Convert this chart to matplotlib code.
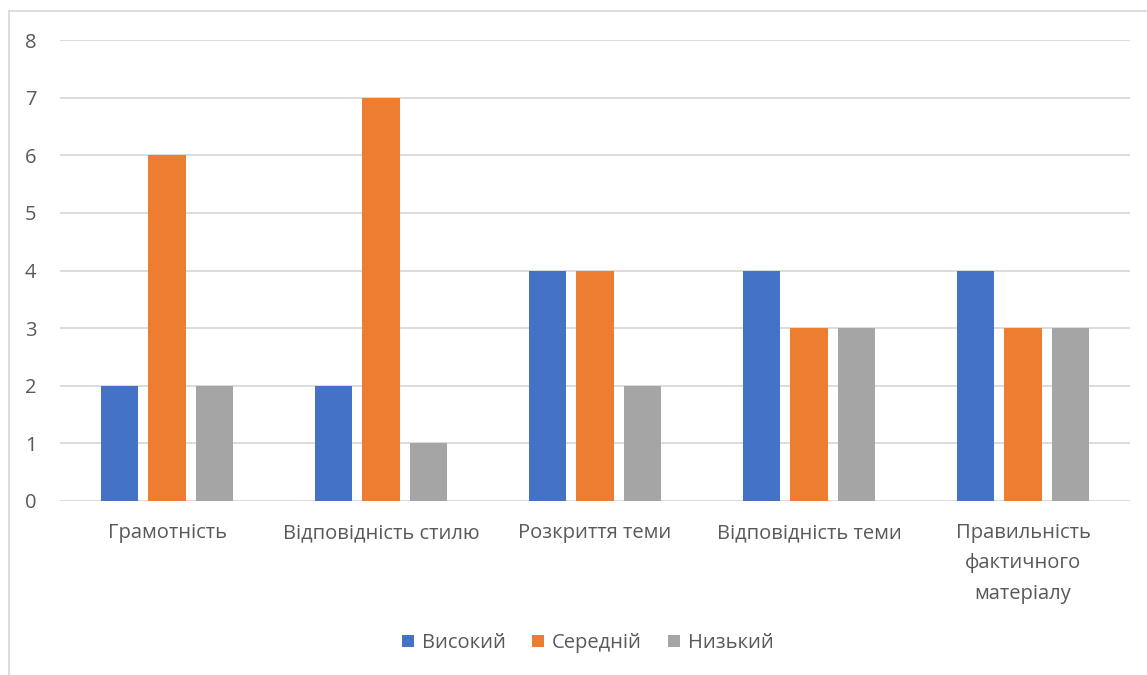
import numpy as np
import matplotlib.pyplot as plt
from matplotlib.lines import Line2D

plt.rcParams['font.family'] = ['Open Sans', 'DejaVu Sans']

categories = ['Грамотність', 'Відповідність стилю', 'Розкриття теми',
              'Відповідність теми', 'Правильність\nфактичного\nматеріалу']
high = [2, 2, 4, 4, 4]
mid = [6, 7, 4, 3, 3]
low = [2, 1, 2, 3, 3]
series_names = ['Високий', 'Середній', 'Низький']
colors = ['#4472C4', '#ED7D31', '#A5A5A5']

W, H = 1147, 675
fig = plt.figure(figsize=(W / 100, H / 100), dpi=100)
ax = fig.add_axes([60 / W, 1 - 501 / H, 1070 / W, 461 / H])

x = np.arange(len(categories))
width = 0.173
step = 0.222
for i, (vals, c, name) in enumerate(zip([high, mid, low], colors, series_names)):
    ax.bar(x + (i - 1) * step, vals, width, color=c, label=name, zorder=3)

fs = 14.5
ax.set_xlim(-0.5, len(categories) - 0.5)
ax.set_ylim(0, 8)
ax.set_yticks(range(0, 9))
ax.yaxis.grid(True, color='#d9d9d9', linewidth=1.3, zorder=0)
for s in ax.spines.values():
    s.set_visible(False)
ax.tick_params(axis='y', length=0, pad=17, labelsize=fs, labelcolor='#595959')
ax.tick_params(axis='x', length=0, pad=16, labelsize=fs, labelcolor='#595959')
ax.set_xticks(x)
ax.set_xticklabels(categories, linespacing=1.68, va='top')

leg = fig.legend(loc='center', bbox_to_anchor=(588 / W, 1 - 643 / H), ncol=3,
                 frameon=False, fontsize=fs, handlelength=0.6, handleheight=0.6,
                 columnspacing=1.3, handletextpad=0.4)
for t in leg.get_texts():
    t.set_color('#595959')

# chart area border (partly cut off in the reference)
fig.add_artist(Line2D([8.5 / W, 8.5 / W], [0, 1 - 10.5 / H], color='#d9d9d9', lw=1.3))
fig.add_artist(Line2D([8.5 / W, 1], [1 - 10.5 / H, 1 - 10.5 / H], color='#d9d9d9', lw=1.3))

fig.savefig('out.png', dpi=100)
